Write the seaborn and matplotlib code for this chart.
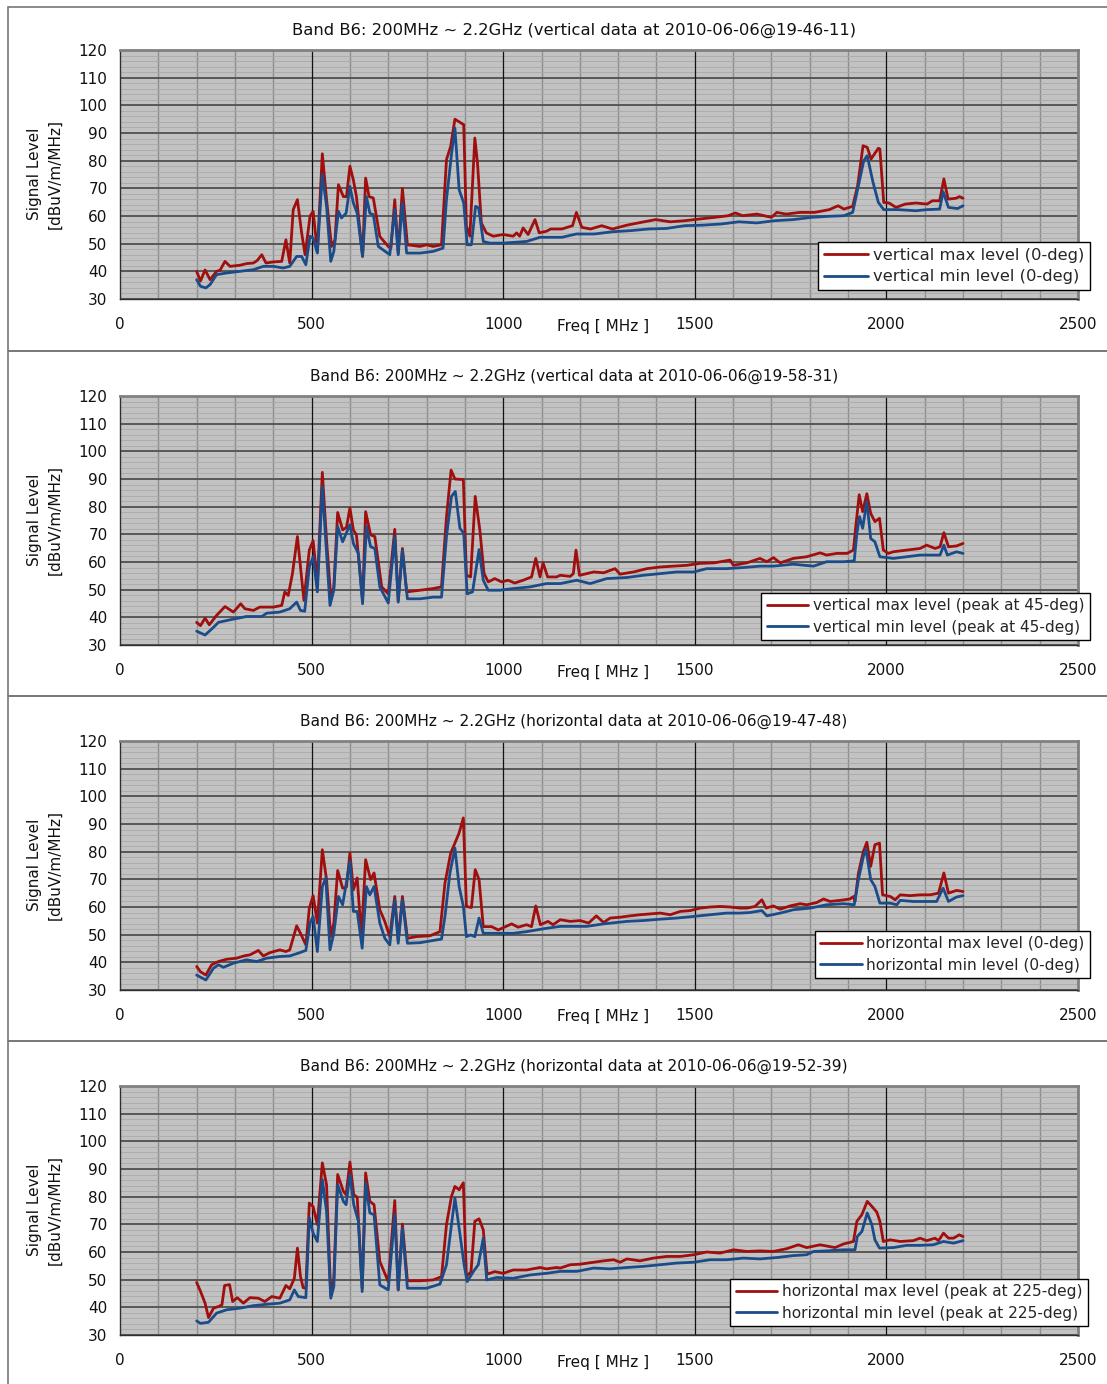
import pandas as pd
import seaborn as sns
import matplotlib.pyplot as plt
from matplotlib.lines import Line2D
from matplotlib.patches import Rectangle
from matplotlib.ticker import MultipleLocator

# (freq MHz, level dBuV/m/MHz)

p1_max = [(200, 40), (210, 36.5), (222, 40.5), (235, 37), (252, 40), (261, 40.4), (274, 43.6), (287, 41.8),
          (313, 42.2), (330, 42.8), (348, 43), (358, 43.9), (370, 46), (381, 43), (400, 43.4), (422, 43.6),
          (433, 51.4), (443, 43), (452, 62.3), (463, 65.9), (474, 53.9), (483, 46), (496, 60), (504, 61.7),
          (515, 47.2), (528, 82.5), (539, 66), (552, 49), (561, 51.4), (570, 71.3), (583, 67), (591, 67),
          (600, 78), (609, 73), (617, 67), (633, 45.4), (641, 73.7), (650, 67), (661, 66.5), (678, 52.6),
          (700, 49), (707, 48.4), (717, 65.9), (726, 46.6), (737, 70), (750, 49.6), (783, 49), (800, 49.6),
          (817, 49), (839, 49.6), (852, 80.4), (863, 85.2), (874, 95), (897, 93), (904, 56.3), (913, 52.7),
          (926, 88.2), (933, 79), (943, 57.5), (956, 53.9), (974, 52.7), (1000, 53.3), (1026, 52.7),
          (1035, 53.9), (1043, 52.7), (1052, 55.7), (1065, 53.3), (1083, 58.7), (1094, 53.9), (1113, 54.5),
          (1124, 55.3), (1153, 55.3), (1181, 56.5), (1191, 61.3), (1205, 55.9), (1228, 55.3), (1257, 56.5),
          (1285, 55.3), (1323, 56.7), (1360, 57.7), (1398, 58.7), (1436, 57.9), (1474, 58.3), (1511, 58.9),
          (1551, 59.5), (1587, 60.1), (1606, 61.1), (1625, 60.1), (1662, 60.7), (1700, 59.5), (1714, 61.3),
          (1738, 60.7), (1775, 61.3), (1813, 61.3), (1851, 62.3), (1874, 63.7), (1889, 62.5), (1912, 63.5),
          (1925, 71), (1939, 85.4), (1950, 84.8), (1960, 80.6), (1979, 84.5), (1983, 84.2), (1993, 64.9),
          (2007, 64.7), (2025, 63.1), (2049, 64.3), (2077, 64.7), (2106, 64.3), (2120, 65.5), (2139, 65.5),
          (2150, 73.4), (2161, 66.1), (2181, 66.4), (2191, 67), (2200, 66.4)]

p1_min = [(200, 37), (210, 34.6), (224, 34), (235, 35.2), (252, 38.8), (278, 39.4), (313, 40), (348, 40.6),
          (374, 41.8), (400, 41.8), (426, 41.2), (443, 41.8), (461, 45.4), (474, 45.4), (485, 42.4),
          (496, 52.7), (504, 52), (515, 46.6), (528, 75), (539, 63.5), (550, 43.6), (558, 47.2), (570, 61.7),
          (578, 59.3), (590, 61), (600, 70.7), (609, 64.7), (619, 61), (633, 45.4), (643, 67), (652, 61),
          (661, 60.5), (674, 49), (704, 46), (717, 62.3), (726, 46), (737, 64.7), (748, 46.6), (783, 46.6),
          (817, 47.2), (843, 48.4), (852, 66), (865, 82.2), (874, 91.8), (885, 69.5), (897, 64.7), (906, 49.6),
          (917, 49.6), (928, 63.5), (936, 62.9), (948, 50.8), (965, 50.2), (1000, 50.2), (1061, 50.8),
          (1096, 52.3), (1153, 52.3), (1191, 53.5), (1238, 53.5), (1285, 54.3), (1332, 54.7), (1379, 55.3),
          (1426, 55.5), (1474, 56.5), (1521, 56.7), (1568, 57.1), (1615, 57.9), (1662, 57.5), (1709, 58.3),
          (1757, 58.7), (1804, 59.5), (1851, 59.9), (1889, 60.1), (1912, 61.3), (1927, 71), (1941, 80),
          (1950, 81.8), (1965, 72.2), (1979, 64.9), (1993, 62.3), (2030, 62.3), (2077, 61.9), (2106, 62.3),
          (2139, 62.5), (2148, 68.8), (2162, 63.1), (2186, 62.7), (2200, 63.7)]

p2_max = [(200, 38.2), (210, 37), (222, 39.7), (233, 37.3), (252, 40.7), (274, 43.9), (296, 41.9), (315, 44.9),
          (326, 43.1), (348, 42.5), (365, 43.7), (383, 43.7), (400, 43.7), (422, 44.3), (430, 49.2), (439, 47.9),
          (450, 55.8), (463, 69.2), (471, 58.2), (480, 46.1), (494, 64.3), (504, 67.7), (515, 52.2), (528, 92.4),
          (539, 67.9), (550, 47.3), (558, 51), (568, 77.9), (581, 71.6), (591, 72.5), (600, 79.5), (609, 71.6),
          (617, 69.8), (633, 46.1), (641, 78.2), (654, 69.8), (665, 69.2), (683, 51), (700, 48.5), (717, 71.8),
          (726, 46.1), (737, 64.9), (748, 49.2), (783, 49.8), (817, 50.4), (839, 51), (852, 76.4), (864, 93.2),
          (874, 90), (896, 89.8), (904, 55.2), (915, 54.6), (927, 83.7), (939, 71.6), (950, 55.8), (961, 52.8),
          (978, 54), (996, 52.8), (1013, 53.4), (1030, 52.4), (1052, 53.4), (1074, 54.6), (1085, 61.3),
          (1096, 54.6), (1104, 59.7), (1116, 54.6), (1139, 54.6), (1149, 55.2), (1175, 54.8), (1183, 55.8),
          (1190, 64.3), (1199, 55.2), (1218, 55.8), (1236, 56.4), (1262, 56.1), (1292, 57.6), (1305, 55.6),
          (1340, 56.4), (1375, 57.6), (1410, 58.2), (1444, 58.5), (1479, 58.8), (1514, 59.5), (1551, 59.7),
          (1592, 60.7), (1601, 58.8), (1636, 59.7), (1670, 61.3), (1688, 60.1), (1705, 61.6), (1723, 59.7),
          (1757, 61.3), (1792, 61.9), (1827, 63.3), (1844, 62.5), (1870, 63.1), (1897, 63.1), (1914, 64.3),
          (1920, 72.8), (1929, 84.3), (1938, 78.2), (1949, 84.7), (1959, 77.6), (1970, 74.6), (1982, 75.8),
          (1992, 64.3), (2005, 63.1), (2018, 63.7), (2053, 64.3), (2088, 64.9), (2105, 66.1), (2127, 64.9),
          (2140, 65.5), (2150, 70.6), (2162, 65.5), (2183, 65.8), (2200, 66.7)]

p2_min = [(200, 35), (222, 33.6), (244, 36.4), (257, 38.2), (287, 39.1), (330, 40.3), (370, 40.3), (383, 41.5),
          (417, 41.9), (443, 43.1), (461, 45.5), (471, 42.5), (482, 42.2), (494, 58.2), (504, 61.9), (515, 49.2),
          (528, 87.3), (539, 63.1), (548, 44.3), (558, 49.8), (568, 72.8), (581, 67.3), (600, 73.5), (609, 66.7),
          (622, 63.1), (633, 44.9), (643, 72.8), (654, 65.5), (665, 64.9), (678, 51), (700, 45.2), (717, 69.2),
          (726, 45.5), (737, 64.3), (750, 46.7), (783, 46.7), (817, 47.3), (839, 47.3), (852, 69.2), (865, 83.7),
          (875, 85.5), (887, 72.2), (897, 70.4), (906, 48.5), (920, 49.2), (937, 64.5), (948, 53.4), (961, 49.8),
          (991, 49.8), (1026, 50.4), (1070, 51), (1113, 52.2), (1149, 52.2), (1192, 53.4), (1227, 52.2),
          (1270, 54), (1323, 54.4), (1366, 55.2), (1410, 55.8), (1453, 56.4), (1497, 56.4), (1531, 57.6),
          (1583, 57.6), (1627, 58), (1670, 58.5), (1705, 58.5), (1757, 59.2), (1810, 58.5), (1844, 60.1),
          (1888, 60.1), (1916, 60.4), (1923, 70.4), (1930, 76.4), (1938, 72.2), (1949, 81.9), (1959, 68.5),
          (1970, 67.3), (1983, 61.9), (2018, 61.3), (2053, 61.9), (2088, 62.5), (2140, 62.5), (2150, 66.1),
          (2159, 62.5), (2183, 63.7), (2200, 63.1)]

p3_max = [(200, 38.5), (210, 36.6), (224, 35.4), (239, 39.1), (257, 40.3), (278, 41.1), (304, 41.5), (326, 42.4),
          (339, 42.7), (361, 44.3), (374, 42.3), (391, 43.5), (417, 44.5), (433, 43.9), (443, 44.5), (461, 53.2),
          (471, 50.5), (485, 46.3), (494, 59.6), (504, 64.1), (515, 54.2), (528, 80.7), (539, 69.9), (550, 49.3),
          (558, 54.2), (568, 73.2), (581, 66.8), (591, 67.2), (600, 79.5), (609, 66.2), (619, 70.5), (630, 49.3),
          (641, 77.1), (654, 69.9), (663, 72.3), (678, 59), (691, 54.8), (704, 49.3), (717, 63.8), (726, 48.1),
          (737, 63.8), (750, 48.7), (774, 49.3), (809, 49.6), (835, 51.1), (848, 68.6), (863, 79.5), (874, 83.1),
          (885, 86.8), (896, 92.2), (904, 60.2), (917, 59.8), (927, 73.5), (937, 69.9), (948, 52.9), (970, 52.9),
          (987, 51.7), (1022, 53.9), (1039, 52.7), (1061, 53.6), (1074, 52.9), (1085, 60.4), (1097, 53.6),
          (1117, 54.8), (1130, 53.6), (1149, 55.4), (1175, 54.8), (1201, 55.1), (1223, 54.2), (1243, 56.8),
          (1262, 54.4), (1279, 56), (1305, 56.3), (1331, 56.8), (1357, 57.2), (1383, 57.5), (1410, 57.8),
          (1436, 57.2), (1462, 58.4), (1488, 58.7), (1514, 59.6), (1540, 60), (1566, 60.2), (1592, 60),
          (1618, 59.6), (1636, 59.6), (1657, 60.2), (1675, 62.6), (1686, 59.6), (1705, 60.4), (1723, 59.2),
          (1749, 60.4), (1775, 61.2), (1792, 60.8), (1818, 61.6), (1836, 62.9), (1853, 62), (1879, 62.4),
          (1905, 62.9), (1914, 63.8), (1918, 62), (1927, 72.3), (1940, 80.1), (1949, 83.4), (1959, 74.7),
          (1970, 82.5), (1982, 83.1), (1990, 64.4), (2010, 63.8), (2023, 62.6), (2036, 64.4), (2062, 64.1),
          (2088, 64.4), (2114, 64.4), (2136, 65), (2150, 72.3), (2162, 65), (2183, 66), (2200, 65.6)]

p3_min = [(200, 35.4), (224, 33.6), (244, 37.9), (257, 39.1), (270, 38.2), (296, 39.7), (330, 40.9), (357, 40.3),
          (383, 41.5), (417, 42.1), (443, 42.3), (465, 43.3), (485, 44.3), (496, 54.2), (504, 56.6), (515, 43.9),
          (528, 67.4), (537, 70.5), (548, 44.5), (558, 50.5), (570, 63.8), (581, 60.8), (600, 76.5), (609, 58.4),
          (619, 58.4), (632, 45.1), (643, 67.4), (652, 64.4), (663, 67.4), (678, 54.2), (691, 48.7), (704, 46.3),
          (717, 62.6), (726, 46.9), (737, 62.6), (750, 46.9), (783, 47.1), (817, 47.9), (839, 48.4), (848, 56.6),
          (861, 72.3), (874, 81.3), (885, 67.4), (896, 60.2), (904, 49.3), (915, 49.9), (926, 49.3), (937, 56),
          (948, 50.5), (974, 50.5), (1026, 50.5), (1061, 51.1), (1113, 52.3), (1149, 53), (1183, 53), (1218, 53),
          (1262, 53.9), (1323, 54.8), (1366, 55.1), (1410, 55.6), (1453, 56), (1497, 56.6), (1540, 57.2),
          (1583, 57.8), (1618, 57.8), (1644, 58), (1675, 58.7), (1688, 56.8), (1723, 57.8), (1757, 59),
          (1801, 59.6), (1844, 60.8), (1888, 61.2), (1916, 60.8), (1927, 69.9), (1940, 78.3), (1947, 80.7),
          (1959, 69.9), (1970, 67.4), (1983, 61.4), (2010, 61.4), (2027, 60.8), (2036, 62.4), (2070, 62),
          (2105, 62), (2131, 62), (2148, 66.8), (2162, 62), (2183, 63.6), (2200, 64.1)]

p4_max = [(200, 49), (210, 45.8), (222, 41.5), (231, 36.3), (244, 39.7), (257, 40.3), (266, 40.9), (273, 47.9),
          (286, 48.2), (294, 42.1), (306, 43.5), (322, 41.5), (339, 43.5), (361, 43.3), (378, 42.1), (396, 43.9),
          (417, 43.3), (433, 47.9), (443, 46.7), (455, 50.5), (463, 61.4), (471, 51.1), (478, 47.1), (485, 46.9),
          (494, 77.7), (504, 76.4), (515, 69.9), (528, 92.2), (539, 84.3), (550, 44.5), (558, 50.5), (568, 88),
          (583, 81.9), (590, 80.7), (600, 92.5), (610, 80.7), (619, 79.8), (632, 46.9), (641, 88.6), (652, 78.3),
          (663, 77.1), (678, 56.6), (700, 49.3), (717, 78.6), (726, 46.3), (737, 70.1), (750, 49.6), (783, 49.6),
          (817, 49.9), (839, 51.1), (852, 69.9), (865, 80.1), (874, 83.7), (885, 82.5), (896, 85), (904, 51.1),
          (916, 52.9), (926, 71.1), (937, 72), (948, 68), (958, 52), (978, 52.9), (1000, 52.3), (1026, 53.5),
          (1061, 53.5), (1096, 54.4), (1113, 53.9), (1139, 54.4), (1149, 54.2), (1175, 55.4), (1201, 55.6),
          (1236, 56.3), (1262, 56.8), (1288, 57.2), (1305, 56.3), (1323, 57.5), (1357, 56.8), (1392, 57.8),
          (1427, 58.4), (1462, 58.4), (1497, 59), (1531, 60), (1566, 59.6), (1601, 60.8), (1636, 60.2),
          (1670, 60.4), (1705, 60.2), (1740, 61.2), (1770, 62.6), (1792, 61.6), (1827, 62.6), (1866, 61.6),
          (1888, 62.9), (1914, 63.8), (1923, 71.1), (1936, 73.5), (1950, 78.3), (1962, 76.5), (1975, 74.4),
          (1983, 71.1), (1992, 63.8), (2010, 64.4), (2036, 63.8), (2070, 64.1), (2088, 65), (2105, 64.1),
          (2127, 65), (2136, 64.1), (2149, 66.8), (2162, 65), (2175, 65), (2190, 66.2), (2200, 65.6)]

p4_min = [(200, 35.1), (210, 34.2), (231, 34.6), (252, 37.9), (278, 39.1), (313, 39.7), (348, 40.6), (383, 41.1),
          (417, 41.5), (443, 42.7), (455, 46.3), (465, 43.9), (485, 43.5), (494, 72.3), (504, 66.8), (515, 63.8),
          (528, 86.2), (539, 74.7), (550, 43.3), (558, 47.5), (568, 84.3), (583, 78.3), (590, 77.1), (600, 88),
          (610, 77.1), (622, 71.1), (632, 45.7), (641, 85), (652, 74.1), (663, 73.5), (678, 48.1), (700, 46.3),
          (717, 73.5), (726, 46.3), (737, 68.6), (750, 46.9), (800, 46.9), (835, 48.4), (852, 55.4), (865, 69.9),
          (874, 79.5), (885, 68.6), (898, 55.4), (906, 49.3), (922, 52.9), (935, 55.4), (948, 65), (957, 49.9),
          (983, 50.8), (1026, 50.5), (1070, 51.7), (1113, 52.3), (1149, 53), (1192, 53), (1236, 54.2),
          (1279, 53.9), (1323, 54.4), (1366, 54.8), (1410, 55.4), (1453, 56), (1497, 56.3), (1540, 57.2),
          (1583, 57.2), (1627, 57.8), (1670, 57.5), (1714, 58), (1757, 58.7), (1792, 59), (1810, 60.2),
          (1844, 60.4), (1888, 60.8), (1918, 60.8), (1924, 65.6), (1936, 67.4), (1950, 74.1), (1962, 69.9),
          (1970, 64.4), (1982, 61.4), (2018, 61.6), (2053, 62.4), (2088, 62.4), (2122, 62.6), (2149, 63.8),
          (2175, 63.2), (2200, 64.1)]

titles = ["Band B6: 200MHz ~ 2.2GHz (vertical data at 2010-06-06@19-46-11)",
          "Band B6: 200MHz ~ 2.2GHz (vertical data at 2010-06-06@19-58-31)",
          "Band B6: 200MHz ~ 2.2GHz (horizontal data at 2010-06-06@19-47-48)",
          "Band B6: 200MHz ~ 2.2GHz (horizontal data at 2010-06-06@19-52-39)"]
max_labels = ["vertical max level (0-deg)", "vertical max level (peak at 45-deg)",
              "horizontal max level (0-deg)", "horizontal max level (peak at 225-deg)"]
min_labels = ["vertical min level (0-deg)", "vertical min level (peak at 45-deg)",
              "horizontal min level (0-deg)", "horizontal min level (peak at 225-deg)"]
max_series = [p1_max, p2_max, p3_max, p4_max]
min_series = [p1_min, p2_min, p3_min, p4_min]
x_major = [500, 1000, 1500, 2000]

RED = '#a00e0e'
BLUE = '#1b4c89'

sns.set_style('white')
plt.rcParams['font.family'] = ['DejaVu Sans']

W, H = 1107, 1384
fig = plt.figure(figsize=(W / 100, H / 100), dpi=100)

# pixel layout of the four stacked panels
ax_tops = [50, 396, 741, 1086]
box_tops = [7, 351, 696, 1041]
box_bots = [351, 696, 1041, 1395]
legend_corner = [(1090, 290), (1090, 640), (1090, 978), (1088, 1326)]
title_size = [11.8, 11.1, 11.1, 11.1]

for i in range(4):
    # outer panel frame
    fig.add_artist(Rectangle((8 / W, 1 - box_bots[i] / H), (1120 - 8) / W, (box_bots[i] - box_tops[i]) / H,
                             transform=fig.transFigure, fill=False, edgecolor='#777777', lw=1.2))

    top = ax_tops[i]
    ax = fig.add_axes([120 / W, 1 - (top + 249) / H, 958 / W, 249 / H])
    ax.set_facecolor('#c2c2c2')

    df = pd.concat([pd.DataFrame(max_series[i], columns=['freq', 'level']).assign(series=max_labels[i]),
                    pd.DataFrame(min_series[i], columns=['freq', 'level']).assign(series=min_labels[i])])
    sns.lineplot(data=df, x='freq', y='level', hue='series', hue_order=[max_labels[i], min_labels[i]],
                 palette=[RED, BLUE], estimator=None, sort=False, linewidth=2.0, legend=False, ax=ax)

    ax.set_xlim(0, 2500)
    ax.set_ylim(30, 120)
    ax.set_xticks(range(0, 2501, 500))
    ax.set_yticks(range(30, 121, 10))
    ax.xaxis.set_minor_locator(MultipleLocator(100))
    ax.yaxis.set_minor_locator(MultipleLocator(2))
    ax.set_axisbelow(True)
    ax.grid(which='minor', axis='y', color='#a9a9a9', lw=0.6)
    ax.grid(which='minor', axis='x', color='#8e8e8e', lw=1.0)
    ax.grid(which='major', axis='y', color='#585858', lw=1.4)
    # the black 500 MHz lines sit above the horizontal grid
    for xv in x_major:
        ax.axvline(xv, color='#111111', lw=0.9, zorder=1)
    ax.tick_params(which='minor', length=0)
    ax.tick_params(which='major', direction='out', length=4, width=1, color='#303030', labelsize=11,
                   labelcolor='#111111')
    ax.tick_params(axis='x', pad=9)
    ax.tick_params(axis='y', pad=5)
    for s in ['top', 'right']:
        ax.spines[s].set_color('#808080')
        ax.spines[s].set_linewidth(2)
    for s in ['left', 'bottom']:
        ax.spines[s].set_color('#303030')
        ax.spines[s].set_linewidth(1)
    ax.set_xlabel('')
    ax.set_ylabel('')

    ax.text((603 - 120) / 958, -27 / 249, 'Freq [ MHz ]', transform=ax.transAxes, ha='center', va='center',
            fontsize=11, color='#111111')
    fig.text(45 / W, 1 - (top + 124) / H, 'Signal Level\n[dBuV/m/MHz]', rotation=90, ha='center', va='center',
             multialignment='center', fontsize=11, linespacing=1.45, color='#111111')
    fig.text(574 / W, 1 - (top - 20) / H, titles[i], ha='center', va='center', fontsize=title_size[i],
             color='#111111')

    handles = [Line2D([], [], color=RED, lw=2.0), Line2D([], [], color=BLUE, lw=2.0)]
    lx, ly = legend_corner[i]
    leg = ax.legend(handles, [max_labels[i], min_labels[i]], loc='lower right',
                    bbox_to_anchor=(lx / W, 1 - ly / H), bbox_transform=fig.transFigure, borderaxespad=0,
                    fontsize=title_size[i], frameon=True, fancybox=False, framealpha=1, edgecolor='black',
                    handlelength=2.7, handletextpad=0.3, labelspacing=0.4, borderpad=0.35)
    leg.get_frame().set_linewidth(1.0)

fig.savefig('out.png', dpi=100)
